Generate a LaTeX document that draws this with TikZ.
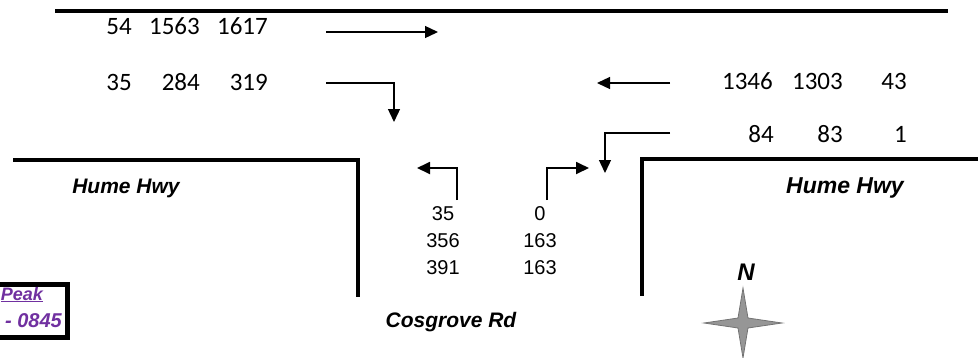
\documentclass[tikz,border=0pt]{standalone}
\usepackage{fontspec}
\setmainfont{Liberation Sans}
\newfontfamily\calfont[Numbers=Lining]{Carlito}
\usetikzlibrary{arrows.meta}
\definecolor{peakpurple}{RGB}{112,48,160}
\definecolor{stargray}{RGB}{150,150,150}
\definecolor{stargrayd}{RGB}{115,115,115}
\begin{document}
\begin{tikzpicture}[x=1pt,y=-1pt,
  road/.style={line width=3.2pt},
  flow/.style={line width=1.3pt,-{Triangle[length=13pt,width=12pt]}},
  cnum/.style={font=\calfont\fontsize{25}{25}\selectfont,inner sep=0pt,anchor=base east},
  anum/.style={font=\fontsize{20}{20}\selectfont,inner sep=0pt},
  rdname/.style={font=\bfseries\itshape\fontsize{21}{21}\selectfont,inner sep=0pt},
  peak/.style={font=\bfseries\itshape\fontsize{18}{18}\selectfont,text=peakpurple,inner sep=0pt,anchor=base east}]
\useasboundingbox (0,0) rectangle (978,357);
% roads
\draw[line width=3.6pt] (55,11) -- (948,11);
\draw[road] (13,160) -- (358,160) -- (358,297);
\draw[road] (978,159) -- (642,159) -- (642,296);
% top-left numbers
\node[cnum] (a1) at (132,34) {54};
\node[cnum] (a2) at (200,34) {1563};
\node[cnum] (a3) at (268,34) {1617};
\node[cnum] (b1) at (132,90) {35};
\node[cnum] (b2) at (200,90) {284};
\node[cnum] (b3) at (268,90) {319};
% top-right numbers
\node[cnum] (c1) at (773,89) {1346};
\node[cnum] (c2) at (843,89) {1303};
\node[cnum] (c3) at (907,89) {43};
\node[cnum] (d1) at (774,142) {84};
\node[cnum] (d2) at (843,142) {83};
\node[cnum] (d3) at (907,142) {1};
% centre numbers
\node[anum] (e1) at (443,214) {35};
\node[anum] (e2) at (443,241) {356};
\node[anum] (e3) at (443,268) {391};
\node[anum] (f1) at (540,214) {0};
\node[anum] (f2) at (540,241) {163};
\node[anum] (f3) at (540,268) {163};
% road names
\node[rdname] (h1) at (126,188) {Hume Hwy};
\node[rdname,font=\bfseries\itshape\fontsize{23}{23}\selectfont] (h2) at (845,188) {Hume Hwy};
\node[rdname] (cr) at (451,322) {Cosgrove Rd};
% arrow coordinates
\coordinate (p1s) at (326,32);  \coordinate (p1e) at (438,32);
\coordinate (p2s) at (326,83);  \coordinate (p2c) at (394,83); \coordinate (p2e) at (394,122);
\coordinate (q1s) at (670,83);  \coordinate (q1e) at (597,83);
\coordinate (q2s) at (670,133); \coordinate (q2c) at (605,133); \coordinate (q2e) at (605,173);
\coordinate (l1s) at (457,200); \coordinate (l1c) at (457,168); \coordinate (l1e) at (417,168);
\coordinate (r1s) at (547,200); \coordinate (r1c) at (547,168); \coordinate (r1e) at (589,168);
\draw[flow] (p1s) -- (p1e);
\draw[flow] (p2s) -- (p2c) -- (p2e);
\draw[flow] (q1s) -- (q1e);
\draw[flow] (q2s) -- (q2c) -- (q2e);
\draw[flow,line width=1.8pt] (l1s) -- (l1c) -- (l1e);
\draw[flow,line width=1.8pt] (r1s) -- (r1c) -- (r1e);
% peak box
\draw[line width=5pt] (-5,284.5) -- (67.5,284.5) -- (67.5,337.5) -- (-5,337.5);
\node[peak] (pk1) at (43,300) {\underline{Peak}};
\node[peak,font=\bfseries\itshape\fontsize{20}{20}\selectfont] (pk2) at (62,327) {- 0845};
% north star
\node[font=\bfseries\itshape\fontsize{24}{24}\selectfont,inner sep=0pt] (n) at (746,272) {N};
\draw[fill=stargray,draw=stargrayd,line width=0.8pt]
  (743,288) -- (748,318) -- (782,323) -- (748,328) -- (743,358)
  -- (738,328) -- (704,323) -- (738,318) -- cycle;
\end{tikzpicture}
\end{document}
